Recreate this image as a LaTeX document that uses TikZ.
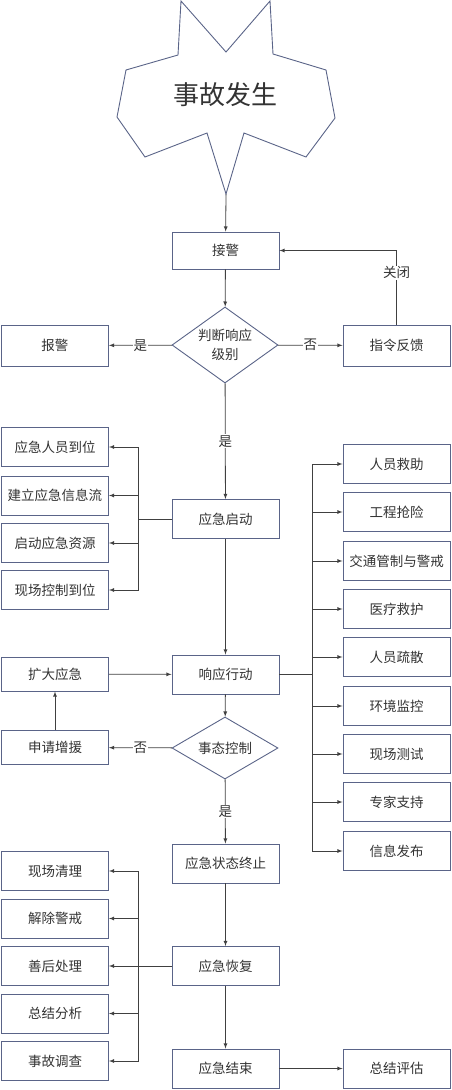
\documentclass[tikz,border=0pt]{standalone}
\usepackage{fontspec}
\setmainfont{Noto Sans CJK SC}
\usepackage{tikz}
\usetikzlibrary{shapes.geometric}
\usepackage{xcolor}
\definecolor{boxline}{HTML}{5A6488}
\definecolor{linec}{HTML}{404040}
\definecolor{txt}{HTML}{333333}

\begin{document}
\begin{tikzpicture}[x=1pt, y=-1pt,
	box/.style={draw=boxline, line width=0.9pt, minimum width=107pt, minimum height=39pt, inner sep=0pt, text=txt, font=\fontsize{13.5}{17}\selectfont},
	lowbox/.style={box, minimum height=34pt},
	choice/.style={diamond, draw=boxline, line width=0.9pt, minimum width=106pt, minimum height=76pt, aspect=1.4, inner sep=0pt, text=txt, align=center, font=\fontsize{13.5}{19}\selectfont},
	arr/.style={-latex, draw=linec, line width=0.8pt},
	line/.style={draw=linec, line width=0.8pt},
	lab/.style={fill=white, text=txt, inner sep=1pt, font=\fontsize{13.5}{17}\selectfont}]
	\useasboundingbox (0,0) rectangle (452,1090);

	% star
	\draw[boxline, line width=0.9pt, line join=miter] (178,55)--(181,1)--(226,52)--(270,1)--(273,54)--(326,70)--(335,118)--(306,157)--(244,133)--(226,194)--(207,133)--(145,157)--(117,117)--(126,70)--cycle;
	\node[text=txt, font=\fontsize{26}{30}\selectfont] (occur) at (225,95) {事故发生};
	\coordinate (tip) at (226,194);

	% main column
	\node[box, minimum height=37pt] (alarm) at (225.5,250.5) {接警};
	\node[choice] (judge) at (225,345) {判断响应\\级别};
	\node[box, minimum height=41pt] (report) at (55,345.5) {报警};
	\node[box, minimum height=41pt] (order) at (396.5,345.5) {指令反馈};
	\node[box] (start) at (225.5,519) {应急启动};
	\node[box] (act) at (225.5,674.5) {响应行动};
	\node[choice, minimum height=62pt] (ctrl) at (225,748) {事态控制};
	\node[lowbox] (expand) at (55,674) {扩大应急};
	\node[lowbox] (ask) at (55,747.5) {申请增援};
	\node[box] (stop) at (225.5,863.5) {应急状态终止};
	\node[box] (recover) at (225.5,966) {应急恢复};
	\node[box] (finish) at (225.5,1068.5) {应急结束};
	\node[box] (assess) at (396.5,1068.5) {总结评估};

	% left boxes, start
	\node[box] (s1) at (55,447) {应急人员到位};
	\node[box] (s2) at (55,495.5) {建立应急信息流};
	\node[box] (s3) at (55,543) {启动应急资源};
	\node[box] (s4) at (55,590) {现场控制到位};

	% right boxes, action
	\foreach \name/\y/\txt in {a1/464/人员救助, a2/512/工程抢险, a3/561/交通管制与警戒, a4/609/医疗救护, a5/657/人员疏散, a6/706/环境监控, a7/754/现场测试, a8/802/专家支持, a9/851/信息发布}
		\node[box] (\name) at (396.5,\y) {\txt};

	% left boxes, recovery
	\node[box] (r1) at (55,871) {现场清理};
	\node[box] (r2) at (55,918.5) {解除警戒};
	\node[box] (r3) at (55,966) {善后处理};
	\node[box] (r4) at (55,1013.5) {总结分析};
	\node[box] (r5) at (55,1061) {事故调查};

	% connectors
	\draw[arr] (tip) -- (alarm);
	\draw[arr] (alarm) -- (judge);
	\draw[arr] (judge) -- node[lab] {是} (report);
	\draw[arr] (judge) -- node[lab] {否} (order);
	\draw[arr] (order.north) |- node[lab, pos=0.35] {关闭} (alarm.east);
	\draw[arr] (judge) -- node[lab] {是} (start);

	\coordinate (sjoin) at (138,519);
	\draw[line] (start.west) -- (sjoin);
	\foreach \n in {s1,s2,s3,s4}
		\draw[arr] (sjoin) |- (\n.east);

	\draw[arr] (start) -- (act);
	\coordinate (ajoin) at (312,674.5);
	\draw[line] (act.east) -- (ajoin);
	\foreach \n in {a1,a2,a3,a4,a5,a6,a7,a8,a9}
		\draw[arr] (ajoin) |- (\n.west);

	\draw[arr] (act) -- (ctrl);
	\draw[arr] (ctrl) -- node[lab] {否} (ask);
	\draw[arr] (ask) -- (expand);
	\draw[arr] (expand) -- (act);
	\draw[arr] (ctrl) -- node[lab] {是} (stop);
	\draw[arr] (stop) -- (recover);

	\coordinate (rjoin) at (138,966);
	\draw[line] (recover.west) -- (rjoin);
	\foreach \n in {r1,r2,r3,r4,r5}
		\draw[arr] (rjoin) |- (\n.east);

	\draw[arr] (recover) -- (finish);
	\draw[arr] (finish) -- (assess);
\end{tikzpicture}
\end{document}
